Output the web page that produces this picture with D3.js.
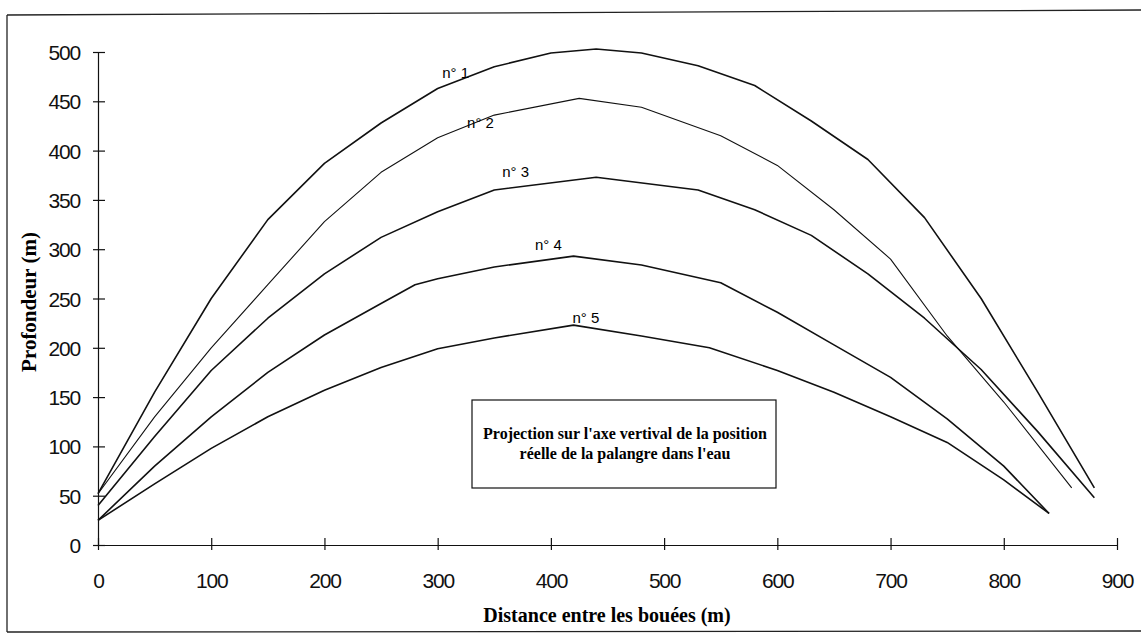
<!DOCTYPE html>
<html>
<head>
<meta charset="utf-8">
<script src="https://cdn.jsdelivr.net/npm/d3@7"></script>
<style>
  body { margin: 0; background: #fff; }
  svg { display: block; }
</style>
</head>
<body>
<div id="chart"></div>
<script>
// distance (m) / depth (m) for each longline
const line1 = [[0,52],[50,155],[100,250],[150,330],[200,387],[250,428],[300,463],[350,485],[400,499],[440,503],[480,499],[530,486],[580,466],[630,430],[680,391],[730,332],[780,250],[830,155],[880,58]];
const line2 = [[0,52],[50,130],[100,200],[150,264],[200,328],[250,378],[300,413],[350,436],[425,453],[480,444],[550,415],[600,385],[650,340],[700,290],[750,212],[800,145],[860,58]];
const line3 = [[0,40],[50,110],[100,177],[150,230],[200,275],[250,312],[300,338],[350,360],[440,373],[530,360],[580,340],[630,314],[680,275],[730,230],[780,178],[830,115],[880,48]];
const line4 = [[0,25],[50,80],[100,130],[150,175],[200,213],[250,245],[280,264],[300,270],[350,282],[420,293],[480,284],[550,266],[600,236],[650,203],[700,170],[750,128],[800,80],[840,32]];
const line5 = [[0,25],[50,62],[100,98],[150,130],[200,157],[250,180],[300,199],[350,210],[420,223],[480,212],[540,200],[600,177],[650,155],[700,130],[750,104],[800,66],[840,32]];

const seriesNames = ["n° 1", "n° 2", "n° 3", "n° 4", "n° 5"];
const seriesData = [line1, line2, line3, line4, line5];
// where each label sits (distance, depth)
const labelAt = [[304, 474], [326, 423], [357, 373], [386, 299], [419, 225]];

const xTicks = [0, 100, 200, 300, 400, 500, 600, 700, 800, 900];
const yTicks = [0, 50, 100, 150, 200, 250, 300, 350, 400, 450, 500];

const width = 1141, height = 635;

const svg = d3.select("#chart").append("svg")
    .attr("width", width)
    .attr("height", height);

// outer frame of the scanned figure
svg.append("line").attr("x1", 7).attr("y1", 15).attr("x2", 1141).attr("y2", 10)
    .attr("stroke", "#222").attr("stroke-width", 1.3);
svg.append("line").attr("x1", 7).attr("y1", 15).attr("x2", 7).attr("y2", 632)
    .attr("stroke", "#222").attr("stroke-width", 1.3);
svg.append("line").attr("x1", 7).attr("y1", 632).attr("x2", 1141).attr("y2", 631)
    .attr("stroke", "#222").attr("stroke-width", 1.3);

const x = d3.scaleLinear().domain([0, 900]).range([98, 1117]);
const y = d3.scaleLinear().domain([0, 500]).range([545, 52]);

// x axis
const xAxis = svg.append("g")
    .attr("transform", "translate(0," + y(0) + ")")
    .call(d3.axisBottom(x).tickValues(xTicks).tickSize(0).tickPadding(0).tickFormat(""));
xAxis.select(".domain").attr("stroke", "#111").attr("stroke-width", 1.2);
xAxis.selectAll(".tick").append("line")
    .attr("y1", -7).attr("y2", 5)
    .attr("stroke", "#111").attr("stroke-width", 1.2);
xAxis.selectAll(".tick").filter(d => d === 0).select("line").attr("y1", 0);
xAxis.selectAll(".tick").append("text")
    .attr("y", 43)
    .attr("text-anchor", "middle")
    .attr("fill", "#111")
    .style("font-family", "'Liberation Sans', Arial, sans-serif")
    .style("font-size", "21px")
    .style("letter-spacing", "-1.2px")
    .text(d => d);

// y axis
const yAxis = svg.append("g")
    .attr("transform", "translate(" + x(0) + ",0)")
    .call(d3.axisLeft(y).tickValues(yTicks).tickSize(0).tickPadding(0).tickFormat(""));
yAxis.select(".domain").attr("stroke", "#111").attr("stroke-width", 1.2);
yAxis.selectAll(".tick").append("line")
    .attr("x1", -5).attr("x2", 7)
    .attr("stroke", "#111").attr("stroke-width", 1.2);
yAxis.selectAll(".tick").append("text")
    .attr("x", -18)
    .attr("dy", "0.36em")
    .attr("text-anchor", "end")
    .attr("fill", "#111")
    .style("font-family", "'Liberation Sans', Arial, sans-serif")
    .style("font-size", "21px")
    .style("letter-spacing", "-1.2px")
    .text(d => d);

// axis titles
svg.append("text")
    .attr("x", 607)
    .attr("y", 622)
    .attr("text-anchor", "middle")
    .style("font-family", "'Liberation Serif', 'Times New Roman', serif")
    .style("font-size", "20px")
    .style("font-weight", "bold")
    .text("Distance entre les bouées (m)");

svg.append("text")
    .attr("transform", "translate(36,302) rotate(-90)")
    .attr("text-anchor", "middle")
    .style("font-family", "'Liberation Serif', 'Times New Roman', serif")
    .style("font-size", "21px")
    .style("font-weight", "bold")
    .text("Profondeur (m)");

// curves
const line = d3.line().x(d => x(d[0])).y(d => y(d[1]));
svg.selectAll(".curve")
    .data(seriesData)
    .enter().append("path")
    .attr("class", "curve")
    .attr("d", line)
    .attr("fill", "none")
    .attr("stroke", "#111")
    .attr("stroke-width", (d, i) => i === 1 ? 1.1 : 1.6)
    .attr("stroke-linejoin", "round");

// curve labels
svg.selectAll(".curve-label")
    .data(seriesNames)
    .enter().append("text")
    .attr("class", "curve-label")
    .attr("x", (d, i) => x(labelAt[i][0]))
    .attr("y", (d, i) => y(labelAt[i][1]))
    .attr("text-anchor", "start")
    .style("font-family", "'Liberation Sans', Arial, sans-serif")
    .style("font-size", "15px")
    .text(d => d);

// annotation box
svg.append("rect")
    .attr("x", 472)
    .attr("y", 400)
    .attr("width", 304)
    .attr("height", 88)
    .attr("fill", "#fff")
    .attr("stroke", "#111")
    .attr("stroke-width", 1.2);

const note = ["Projection sur l'axe vertival de la position", "réelle de la palangre dans l'eau"];
svg.selectAll(".note")
    .data(note)
    .enter().append("text")
    .attr("class", "note")
    .attr("x", 625)
    .attr("y", (d, i) => 439 + i * 20)
    .attr("text-anchor", "middle")
    .style("font-family", "'Liberation Serif', 'Times New Roman', serif")
    .style("font-size", "16px")
    .style("font-weight", "bold")
    .text(d => d);
</script>
</body>
</html>
